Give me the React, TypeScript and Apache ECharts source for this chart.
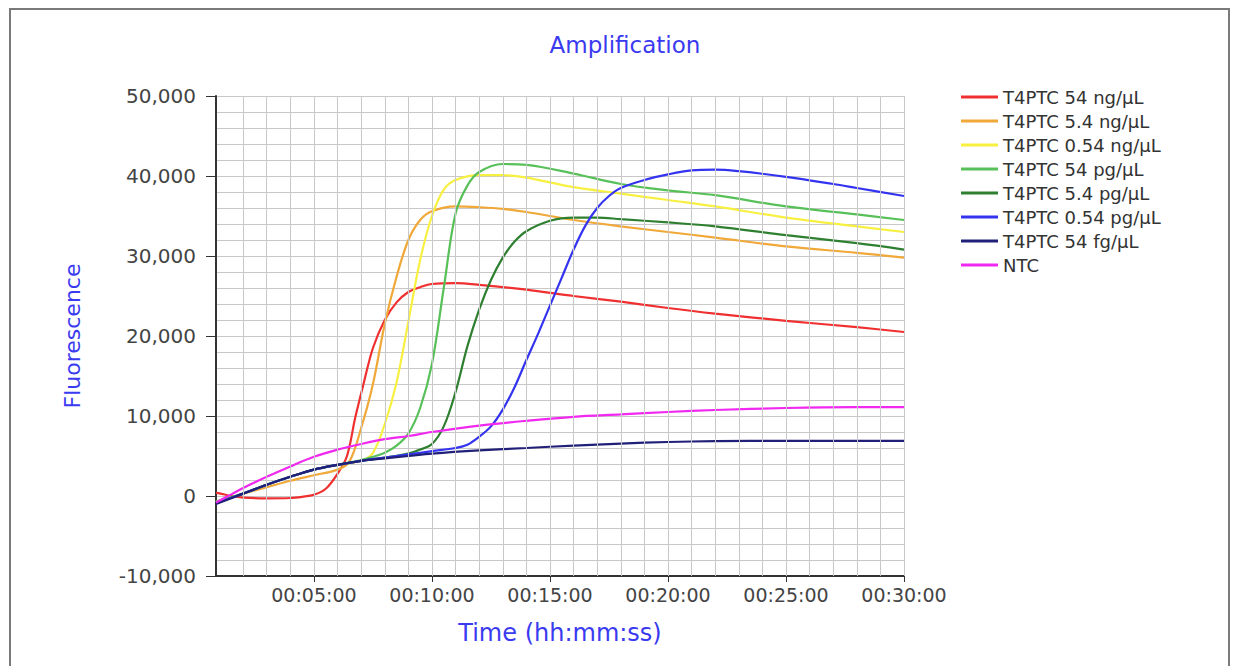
import React, { useEffect, useRef } from "react";
import * as echarts from "echarts";

// time in minutes, fluorescence value
const seriesNames = [
  "T4PTC 54 ng/µL",
  "T4PTC 5.4 ng/µL",
  "T4PTC 0.54 ng/µL",
  "T4PTC 54 pg/µL",
  "T4PTC 5.4 pg/µL",
  "T4PTC 0.54 pg/µL",
  "T4PTC 54 fg/µL",
  "NTC",
];
const seriesColors = ["#f03030", "#f0a838", "#f8f040", "#58c058", "#2e8030", "#3434f0", "#202078", "#f028f0"];

const red54ng: [number, number][] = [[0.85,400],[1.0,330],[1.5,0],[2,-200],[3,-290],[4,-250],[4.5,-100],[5,150],[5.5,900],[6,2800],[6.4,5000],[6.75,9800],[7.1,14000],[7.5,18500],[8,22000],[8.5,24200],[9,25500],[9.5,26100],[10,26500],[11,26600],[12,26400],[14,25800],[16,25000],[18,24300],[20,23500],[22,22800],[25,21900],[28,21100],[30,20500]];
const orange54ng: [number, number][] = [[0.85,-800],[2,300],[3,1100],[4,1900],[5,2600],[6,3300],[6.5,4300],[7,8500],[7.5,14000],[8,21500],[8.5,27400],[9,32000],[9.5,34500],[10,35600],[11,36200],[12,36100],[13,35900],[14,35500],[16,34500],[18,33700],[20,33000],[22,32300],[25,31200],[28,30400],[30,29800]];
const yellow054ng: [number, number][] = [[0.85,-700],[2,300],[3,1400],[4,2400],[5,3300],[6,3900],[7,4400],[7.5,5400],[8,9000],[8.5,14200],[9,21800],[9.5,29500],[10,35000],[10.5,38300],[11,39500],[12,40100],[13,40100],[14,39800],[16,38600],[18,37800],[20,37000],[22,36200],[25,34800],[28,33700],[30,33000]];
const green54pg: [number, number][] = [[0.85,-700],[2,300],[3,1400],[4,2400],[5,3300],[6,3900],[7,4500],[7.5,4900],[8,5400],[8.5,6300],[9,7800],[9.5,11000],[10,16500],[10.5,26000],[11,35300],[11.5,38800],[12,40500],[13,41500],[14,41400],[16,40300],[18,39000],[20,38200],[22,37600],[25,36200],[28,35200],[30,34500]];
const dkgreen54pg: [number, number][] = [[0.85,-900],[2,300],[3,1400],[4,2400],[5,3300],[6,3900],[7,4400],[8,4800],[9,5300],[9.5,5800],[10,6500],[10.5,8700],[11,13000],[11.5,18700],[12,23300],[12.5,27000],[13,29800],[13.5,31800],[14,33100],[15,34400],[16,34800],[17,34800],[18,34600],[20,34200],[22,33700],[25,32600],[28,31600],[30,30800]];
const blue054pg: [number, number][] = [[0.85,-900],[2,300],[3,1400],[4,2400],[5,3300],[6,3900],[7,4400],[8,4800],[9,5200],[10,5600],[11,6000],[11.5,6400],[12,7400],[12.5,8700],[13,10800],[13.5,13600],[14,17000],[14.5,20300],[15,23800],[15.5,27300],[16,30800],[16.5,33800],[17,36000],[17.5,37500],[18,38500],[19,39500],[20,40200],[21,40700],[22,40800],[23,40600],[25,39900],[27,39000],[28,38500],[30,37500]];
const navy54fg: [number, number][] = [[0.85,-1000],[2,300],[3,1400],[4,2400],[5,3300],[6,3900],[7,4400],[8,4700],[9,5000],[10,5300],[12,5700],[14,6000],[16,6300],[18,6550],[20,6750],[22,6850],[25,6900],[28,6900],[30,6900]];
const ntc: [number, number][] = [[0.85,-800],[1.5,200],[2,1000],[3,2400],[4,3700],[5,4900],[6,5800],[7,6500],[8,7100],[9,7500],[10,8000],[12,8800],[14,9400],[16,9900],[18,10200],[20,10500],[22,10750],[25,11000],[28,11100],[30,11100]];

const allSeries = [red54ng, orange54ng, yellow054ng, green54pg, dkgreen54pg, blue054pg, navy54fg, ntc];

const xLabelMinutes = [5, 10, 15, 20, 25, 30];
const gridMinutes = [2,3,4,5,6,7,8,9,10,11,12,13,14,15,16,17,18,19,20,21,22,23,24,25,26,27,28,29,30];

const FONT = "DejaVu Sans";
const BLUE = "#3a3af0";
const TICK_TEXT = "#444444";

function fmtTime(m: number): string {
  const mm = Math.round(m);
  const s = String(mm).padStart(2, "0");
  return `00:${s}:00`;
}

export default function App() {
  const ref = useRef<HTMLDivElement>(null);
  useEffect(() => {
    document.body.style.margin = "0";
    const chart = echarts.init(ref.current!, null, { renderer: "svg" });
    const lines = allSeries.map((d, i) => ({
      name: seriesNames[i],
      type: "line",
      data: d,
      showSymbol: false,
      smooth: 0.35,
      z: 3,
      lineStyle: { color: seriesColors[i], width: 2.2 },
      itemStyle: { color: seriesColors[i] },
    }));
    chart.setOption({
      animation: false,
      backgroundColor: "#ffffff",
      graphic: [
        {
          type: "rect",
          shape: { x: 10, y: 9, width: 1219, height: 700 },
          style: { fill: "none", stroke: "#7a7a7a", lineWidth: 2 },
          silent: true,
        },
      ],
      title: {
        text: "Amplification",
        left: 620,
        top: 28,
        textAlign: "center",
        textStyle: { fontFamily: FONT, fontSize: 23, fontWeight: "normal", color: BLUE },
      },
      legend: {
        orient: "vertical",
        left: 956,
        top: 83,
        itemWidth: 37,
        itemHeight: 3,
        itemGap: 6,
        icon: "rect",
        data: seriesNames,
        textStyle: { fontFamily: FONT, fontSize: 18, color: "#333", lineHeight: 18 },
      },
      grid: { left: 216, top: 96, right: 332, bottom: 90, containLabel: false },
      xAxis: {
        type: "value",
        min: 0.85,
        max: 30,
        name: "Time (hh:mm:ss)",
        nameLocation: "middle",
        nameGap: 45,
        nameTextStyle: { fontFamily: FONT, fontSize: 24, color: BLUE },
        axisLine: { show: true, onZero: false, lineStyle: { color: "#333", width: 2 } },
        axisTick: { show: true, customValues: xLabelMinutes, length: 6, lineStyle: { color: "#333", width: 1 } },
        axisLabel: {
          customValues: xLabelMinutes,
          formatter: (v: number) => fmtTime(v),
          fontFamily: FONT,
          fontSize: 19,
          color: TICK_TEXT,
          margin: 9,
        },
        splitLine: { show: false },
      },
      yAxis: {
        type: "value",
        min: -10000,
        max: 50000,
        interval: 10000,
        name: "Fluorescence",
        nameLocation: "middle",
        nameGap: 133,
        nameRotate: 90,
        nameTextStyle: { fontFamily: FONT, fontSize: 22, color: BLUE },
        axisLine: { show: true, lineStyle: { color: "#333", width: 2 } },
        axisTick: { show: true, length: 10, lineStyle: { color: "#333", width: 1 } },
        axisLabel: {
          formatter: (v: number) => v.toLocaleString("en-US"),
          fontFamily: FONT,
          fontSize: 20,
          color: TICK_TEXT,
          margin: 20,
        },
        splitLine: { show: true, lineStyle: { color: "#c8c8c8", width: 1 } },
        minorTick: { show: false, splitNumber: 5 },
        minorSplitLine: { show: true, lineStyle: { color: "#c8c8c8", width: 1 } },
      },
      series: [
        {
          name: "grid",
          type: "line",
          data: [],
          z: 1,
          silent: true,
          markLine: {
            silent: true,
            symbol: ["none", "none"],
            label: { show: false },
            lineStyle: { color: "#c8c8c8", type: "solid", width: 1 },
            data: gridMinutes.map((m) => ({ xAxis: m })),
          },
        },
        ...lines,
      ],
    });
    return () => chart.dispose();
  }, []);
  return <div ref={ref} style={{ width: 1236, height: 666 }} />;
}
